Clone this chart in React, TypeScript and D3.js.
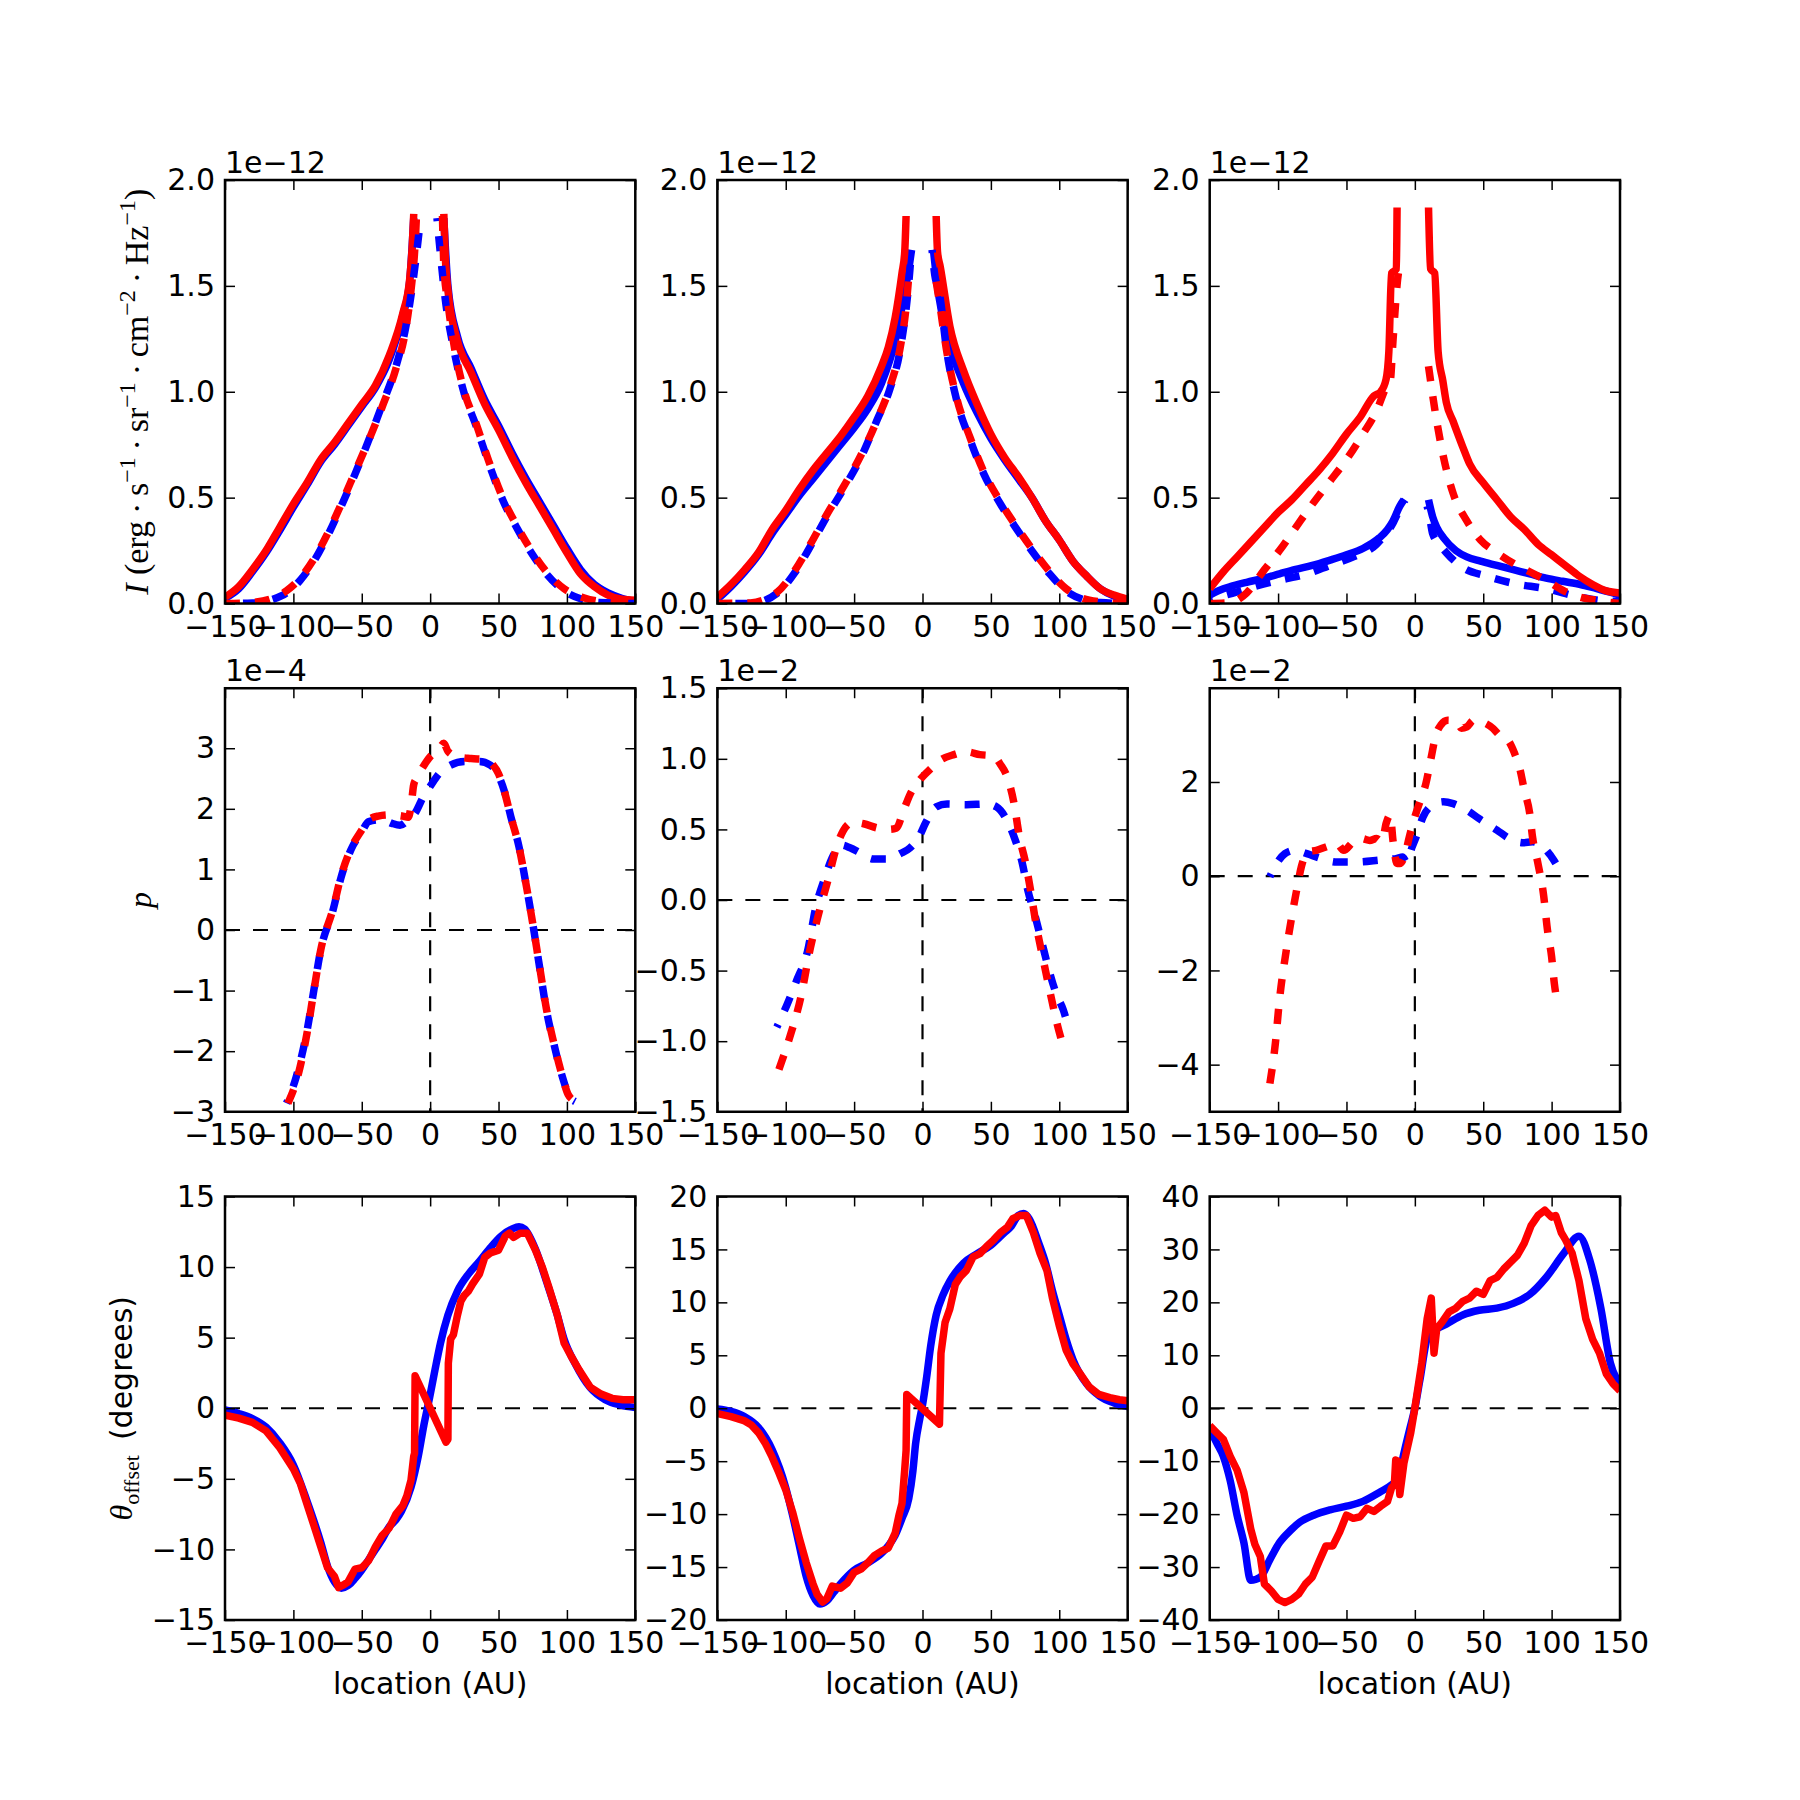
import * as d3 from 'd3';
import React, { useEffect, useRef } from 'react';

type Pt = [number, number | null];

// x axis (location in AU), shared by every panel
const xDomain: [number, number] = [-150, 150];
const xTicks = [-150, -100, -50, 0, 50, 100, 150];

// Row 1: intensity I, in units of 1e-12 (null marks the gap at the centre)
const intensityABlue: Pt[] = [
  [-150, 0.025], [-140, 0.07], [-130, 0.15], [-120, 0.24], [-110, 0.345], [-100, 0.455],
  [-90, 0.56], [-80, 0.67], [-70, 0.75], [-60, 0.84], [-50, 0.93], [-40, 1.02], [-30, 1.15],
  [-20, 1.36], [-15, 1.52], [-12, 1.82], [0, null], [10, 1.82], [13, 1.5], [20, 1.26],
  [30, 1.11], [40, 0.96], [50, 0.84], [60, 0.71], [70, 0.59], [80, 0.48], [90, 0.37],
  [100, 0.26], [110, 0.16], [120, 0.09], [130, 0.05], [140, 0.025], [150, 0.01],
];
const intensityABlueDash: Pt[] = [
  [-150, 0], [-130, 0.003], [-115, 0.02], [-105, 0.05], [-95, 0.11], [-85, 0.2], [-75, 0.32],
  [-65, 0.46], [-55, 0.61], [-45, 0.77], [-35, 0.94], [-25, 1.12], [-18, 1.3], [-13, 1.5],
  [-10, 1.65], [-7, 1.82], [0, null], [5, 1.82], [8, 1.62], [11, 1.44], [17, 1.21], [25, 0.99],
  [33, 0.85], [43, 0.66], [53, 0.49], [64, 0.35], [74, 0.24], [85, 0.14], [98, 0.06],
  [111, 0.02], [124, 0.005], [150, 0],
];
const intensityARed: Pt[] = [
  [-150, 0.03], [-140, 0.08], [-130, 0.16], [-120, 0.25], [-110, 0.36], [-100, 0.47],
  [-90, 0.57], [-80, 0.68], [-70, 0.76], [-60, 0.85], [-50, 0.94], [-40, 1.03], [-30, 1.17],
  [-20, 1.37], [-15, 1.53], [-13, 1.7], [-12, 1.84], [0, null], [10, 1.84], [11, 1.65],
  [13, 1.48], [20, 1.24], [30, 1.09], [40, 0.94], [50, 0.82], [60, 0.69], [70, 0.57],
  [80, 0.46], [90, 0.35], [100, 0.24], [110, 0.14], [120, 0.08], [130, 0.04], [140, 0.02],
  [150, 0.015],
];
const intensityARedDash: Pt[] = [
  [-150, 0], [-130, 0.005], [-115, 0.025], [-105, 0.06], [-95, 0.12], [-85, 0.21], [-75, 0.33],
  [-65, 0.47], [-55, 0.62], [-45, 0.77], [-35, 0.93], [-25, 1.11], [-18, 1.29], [-14, 1.48],
  [-11, 1.7], [-10, 1.83], [0, null], [9, 1.83], [10, 1.6], [13, 1.42], [18, 1.2], [25, 1.0],
  [33, 0.86], [43, 0.67], [53, 0.5], [64, 0.36], [74, 0.25], [85, 0.15], [98, 0.07],
  [111, 0.03], [124, 0.01], [150, 0],
];

const intensityBBlue: Pt[] = [
  [-150, 0.02], [-140, 0.08], [-130, 0.15], [-120, 0.23], [-110, 0.33], [-100, 0.42],
  [-90, 0.51], [-80, 0.59], [-70, 0.67], [-60, 0.75], [-50, 0.83], [-40, 0.92], [-30, 1.04],
  [-20, 1.24], [-15, 1.4], [-10, 1.58], [-8, 1.67], [0, null], [8, 1.67], [10, 1.55],
  [12, 1.45], [20, 1.22], [30, 1.04], [40, 0.9], [50, 0.78], [60, 0.68], [70, 0.59],
  [80, 0.5], [90, 0.39], [100, 0.3], [110, 0.2], [120, 0.13], [130, 0.07], [140, 0.035],
  [150, 0.015],
];
const intensityBBlueDash: Pt[] = [
  [-150, 0], [-126, 0], [-106, 0.05], [-94, 0.14], [-82, 0.27], [-70, 0.41], [-57, 0.55],
  [-45, 0.69], [-33, 0.87], [-24, 1.01], [-16, 1.21], [-11, 1.45], [-8, 1.67], [0, null],
  [7, 1.67], [9, 1.55], [12, 1.48], [18, 1.18], [25, 0.96], [35, 0.77], [45, 0.61],
  [57, 0.47], [69, 0.35], [81, 0.24], [93, 0.14], [105, 0.06], [117, 0.02], [130, 0.005],
  [150, 0],
];
const intensityBRed: Pt[] = [
  [-150, 0.03], [-140, 0.09], [-130, 0.16], [-120, 0.24], [-110, 0.35], [-100, 0.44],
  [-90, 0.54], [-80, 0.63], [-70, 0.71], [-60, 0.79], [-50, 0.88], [-40, 0.98], [-30, 1.12],
  [-25, 1.21], [-20, 1.35], [-15, 1.56], [-13, 1.66], [-12, 1.83], [0, null], [10, 1.83],
  [11, 1.66], [13, 1.59], [20, 1.31], [30, 1.1], [40, 0.94], [50, 0.8], [60, 0.69],
  [70, 0.6], [80, 0.5], [90, 0.39], [100, 0.3], [110, 0.2], [120, 0.13], [130, 0.07],
  [140, 0.04], [150, 0.02],
];
const intensityBRedDash: Pt[] = [
  [-150, 0], [-126, 0.003], [-106, 0.055], [-94, 0.15], [-82, 0.28], [-70, 0.42], [-57, 0.56],
  [-45, 0.7], [-33, 0.87], [-24, 1.02], [-16, 1.22], [-12, 1.4], [-10, 1.55], [0, null],
  [10, 1.52], [12, 1.44], [18, 1.18], [25, 0.97], [35, 0.78], [45, 0.62], [57, 0.48],
  [69, 0.36], [81, 0.25], [93, 0.15], [105, 0.07], [117, 0.025], [130, 0.008], [150, 0],
];

const intensityCBlue: Pt[] = [
  [-150, 0.04], [-140, 0.07], [-135, 0.08], [-123, 0.1], [-110, 0.12], [-99, 0.14],
  [-88, 0.16], [-75, 0.18], [-62, 0.205], [-50, 0.23], [-38, 0.26], [-26, 0.31], [-20, 0.35],
  [-16, 0.39], [-11, 0.46], [-8, 0.49], [0, null], [10, 0.49], [13, 0.41], [16, 0.36],
  [21, 0.31], [30, 0.25], [38, 0.22], [48, 0.2], [60, 0.18], [72, 0.16], [84, 0.14],
  [96, 0.12], [108, 0.105], [121, 0.09], [133, 0.07], [142, 0.055], [150, 0.04],
];
const intensityCBlueDash: Pt[] = [
  [-150, 0.02], [-130, 0.055], [-115, 0.085], [-99, 0.11], [-79, 0.14], [-62, 0.18],
  [-45, 0.22], [-28, 0.28], [-16, 0.38], [-10, 0.46], [-7, 0.49], [0, null], [9, 0.46],
  [11, 0.4], [13, 0.33], [18, 0.28], [23, 0.24], [35, 0.17], [52, 0.13], [72, 0.095],
  [96, 0.07], [121, 0.03], [135, 0.015], [150, 0.01],
];
const intensityCRed: Pt[] = [
  [-150, 0.07], [-140, 0.15], [-130, 0.22], [-120, 0.29], [-110, 0.36], [-100, 0.43],
  [-90, 0.49], [-80, 0.56], [-70, 0.63], [-60, 0.71], [-50, 0.8], [-40, 0.88], [-30, 0.98],
  [-25, 1.0], [-21, 1.06], [-19, 1.19], [-17, 1.56], [-13.5, 1.58], [-13, 1.87], [0, null],
  [10, 1.87], [11.5, 1.58], [14.5, 1.56], [17, 1.19], [20.5, 1.05], [23, 0.95], [28, 0.86],
  [35, 0.74], [40, 0.66], [50, 0.57], [60, 0.49], [70, 0.41], [80, 0.35], [90, 0.28],
  [100, 0.23], [110, 0.18], [120, 0.13], [130, 0.09], [140, 0.06], [150, 0.05],
];
const intensityCRedDash: Pt[] = [
  [-150, 0], [-135, 0.005], [-123, 0.05], [-110, 0.16], [-99, 0.25], [-87, 0.36], [-76, 0.46],
  [-63, 0.57], [-50, 0.68], [-38, 0.8], [-28, 0.91], [-21, 1.02], [-18, 1.05], [-16, 1.24],
  [-12, 1.56], [-10, 1.6], [0, null], [10, 1.12], [15, 0.9], [21, 0.69], [28, 0.52],
  [38, 0.39], [48, 0.3], [60, 0.24], [72, 0.19], [84, 0.15], [96, 0.11], [109, 0.06],
  [121, 0.03], [133, 0.015], [150, 0],
];

// Row 2: polarisation fraction p (1e-4, 1e-2, 1e-2)
const polarABlue: Pt[] = [
  [-105, -2.86], [-98, -2.43], [-90, -1.66], [-85, -0.99], [-80, -0.33], [-71, 0.33],
  [-65, 0.88], [-58, 1.32], [-50, 1.62], [-45, 1.79], [-35, 1.82], [-28, 1.76], [-22, 1.73],
  [-16, 1.82], [-11, 1.93], [-5, 2.2], [0, 2.37], [7, 2.59], [15, 2.72], [25, 2.78],
  [36, 2.78], [44, 2.72], [49, 2.59], [54, 2.31], [59, 1.87], [65, 1.37], [70, 0.77],
  [75, 0.11], [80, -0.61], [85, -1.32], [91, -1.93], [96, -2.37], [102, -2.75], [106, -2.83],
];
const polarARed: Pt[] = [
  [-104, -2.86], [-97, -2.43], [-90, -1.7], [-85, -1.0], [-80, -0.33], [-71, 0.35],
  [-65, 0.9], [-58, 1.34], [-50, 1.65], [-45, 1.82], [-38, 1.88], [-30, 1.9], [-20, 1.88],
  [-16, 1.86], [-14, 2.04], [-12, 2.4], [-10, 2.5], [-5, 2.7], [0, 2.86], [6, 2.97],
  [10, 3.08], [13, 2.95], [20, 2.86], [30, 2.83], [41, 2.81], [46, 2.72], [50, 2.58],
  [54, 2.31], [59, 1.87], [65, 1.37], [70, 0.77], [75, 0.11], [80, -0.6], [85, -1.3],
  [91, -1.92], [96, -2.36], [101, -2.72], [104, -2.8],
];
const polarBBlue: Pt[] = [
  [-106.5, -0.9], [-99, -0.74], [-92, -0.57], [-84, -0.36], [-78, -0.05], [-72, 0.14],
  [-66, 0.3], [-60, 0.39], [-53, 0.37], [-45, 0.33], [-36, 0.29], [-26, 0.29], [-16, 0.33],
  [-9, 0.37], [-3, 0.44], [3, 0.56], [10, 0.66], [18, 0.68], [32, 0.675], [47, 0.68],
  [54, 0.66], [62, 0.56], [68, 0.42], [73, 0.26], [77, 0.07], [82, -0.1], [87, -0.29],
  [92, -0.48], [98, -0.67], [103, -0.78], [105.5, -0.86],
];
const polarBRed: Pt[] = [
  [-105, -1.2], [-97, -0.97], [-89, -0.69], [-82, -0.34], [-76, -0.1], [-70, 0.11],
  [-62, 0.4], [-58, 0.49], [-51, 0.55], [-43, 0.54], [-33, 0.51], [-24, 0.5], [-19, 0.51],
  [-14, 0.63], [-9, 0.75], [-2, 0.85], [6, 0.93], [13, 0.99], [23, 1.03], [32, 1.05],
  [42, 1.03], [52, 1.02], [57, 0.96], [62, 0.87], [67, 0.68], [71, 0.44], [75, 0.28],
  [79, 0.07], [83, -0.17], [88, -0.41], [93, -0.64], [98, -0.86], [103, -1.04],
];
const polarCBlue: Pt[] = [
  [-106, -0.01], [-101, 0.27], [-95, 0.48], [-88, 0.55], [-79, 0.48], [-69, 0.38],
  [-57, 0.3], [-43, 0.3], [-26, 0.34], [-13, 0.38], [-9, 0.41], [-6, 0.3], [-2, 0.62],
  [1, 0.84], [6, 1.26], [13, 1.51], [21, 1.58], [28, 1.54], [38, 1.4], [47, 1.22],
  [60, 0.98], [69, 0.8], [79, 0.71], [86, 0.73], [94, 0.62], [100, 0.41], [106, 0.16],
  [107, 0.14],
];
const polarCRed: Pt[] = [
  [-106, -4.4], [-102, -3.55], [-99, -2.63], [-94, -1.57], [-90, -0.86], [-86, -0.23],
  [-83, 0.2], [-78, 0.52], [-72, 0.55], [-65, 0.62], [-57, 0.69], [-52, 0.55], [-45, 0.73],
  [-39, 0.8], [-33, 0.76], [-28, 0.8], [-24, 0.73], [-21, 1.12], [-18, 1.3], [-16, 0.76],
  [-13, 0.27], [-11, 0.27], [-7, 0.48], [-4, 0.84], [0, 1.26], [4, 1.61], [8, 1.96],
  [12, 2.53], [15, 2.96], [19, 3.21], [24, 3.31], [31, 3.28], [34, 3.14], [38, 3.17],
  [43, 3.31], [48, 3.28], [52, 3.24], [57, 3.14], [62, 2.99], [68, 2.89], [73, 2.6],
  [77, 2.25], [80, 1.83], [84, 1.33], [86, 0.84], [90, 0.27], [94, -0.37], [97, -1.15],
  [100, -1.71], [102, -2.28], [105, -2.77],
];

// Row 3: polarisation angle offset (degrees)
const offsetABlue: Pt[] = [
  [-150, -0.12], [-140, -0.37], [-130, -0.73], [-120, -1.34], [-110, -2.44], [-100, -4.02],
  [-90, -6.59], [-80, -9.5], [-75, -11.2], [-70, -12.3], [-65, -12.75], [-60, -12.56],
  [-55, -12.07], [-50, -11.46], [-45, -10.73], [-40, -10.0], [-35, -9.27], [-30, -8.41],
  [-25, -7.9], [-21, -7.3], [-14, -5.6], [-8.7, -3.4], [-4.6, -1.2], [-0.5, 0.7],
  [3.5, 2.7], [7.6, 4.63], [13, 6.59], [20, 8.3], [28, 9.5], [36, 10.4], [44, 11.37],
  [52, 12.2], [60, 12.7], [65, 12.85], [69, 12.7], [77, 11.27], [85, 9.0], [93, 6.59],
  [98, 4.88], [106, 3.17], [117, 1.46], [128, 0.61], [139, 0.24], [150, 0.05],
];
const offsetARed: Pt[] = [
  [-150, -0.5], [-140, -0.7], [-130, -1.0], [-120, -1.6], [-110, -2.8], [-100, -4.3],
  [-95, -5.3], [-90, -6.8], [-85, -8.3], [-80, -9.8], [-75, -11.3], [-70, -11.9],
  [-67, -12.7], [-63, -12.5], [-60, -12.3], [-55, -11.4], [-50, -11.3], [-45, -10.8],
  [-40, -9.8], [-35, -9.0], [-30, -8.5], [-25, -7.5], [-20, -6.9], [-17, -6.2], [-14, -5.1],
  [-12, -3.4], [-11.4, -3.2], [-11, 2.3], [11.6, -2.4], [13, -2.2], [13.3, 3.2], [15, 4.9],
  [17, 5.2], [20, 6.6], [22.5, 7.6], [25, 8.0], [28, 8.3], [31, 8.8], [36, 9.5], [40, 10.7],
  [44, 11.0], [50, 11.2], [55, 12.2], [58, 12.4], [61, 12.1], [66, 12.4], [71, 12.4],
  [77, 11.2], [82, 10.0], [87, 8.5], [93, 6.6], [98, 4.6], [103, 3.7], [109, 2.7],
  [117, 1.5], [125, 1.0], [133, 0.7], [141, 0.6], [150, 0.6],
];
const offsetBBlue: Pt[] = [
  [-150, -0.07], [-140, -0.3], [-130, -0.8], [-120, -1.8], [-110, -3.9], [-100, -7.5],
  [-95, -10.1], [-90, -13.0], [-85, -15.9], [-80, -17.7], [-75, -18.5], [-70, -18.2],
  [-65, -17.4], [-60, -16.6], [-50, -15.3], [-40, -14.6], [-30, -13.7], [-25, -13.0],
  [-20, -12.0], [-15, -10.4], [-10, -8.5], [-7, -5.9], [-5, -3.3], [-2, -1.0], [0, 0.3],
  [3, 2.9], [6, 5.9], [10, 8.8], [15, 10.7], [20, 12.0], [30, 13.7], [40, 14.6], [50, 15.4],
  [60, 16.6], [65, 17.2], [70, 18.2], [74, 18.4], [78, 17.9], [85, 15.6], [90, 13.7],
  [95, 11.1], [100, 8.8], [105, 6.5], [110, 4.6], [120, 2.3], [130, 1.1], [140, 0.5],
  [150, 0.16],
];
const offsetBRed: Pt[] = [
  [-150, -0.5], [-140, -0.8], [-130, -1.2], [-125, -1.6], [-120, -2.3], [-115, -3.3],
  [-110, -4.6], [-105, -6.1], [-100, -7.7], [-95, -9.8], [-90, -12.3], [-85, -14.6],
  [-80, -16.6], [-77, -17.6], [-73, -18.3], [-70, -18.0], [-66, -16.8], [-60, -17.0],
  [-55, -16.5], [-50, -15.5], [-45, -15.2], [-40, -14.6], [-35, -13.9], [-30, -13.5],
  [-25, -13.2], [-20, -11.8], [-17, -10.0], [-15, -9.0], [-13, -5.8], [-12, -4.0],
  [-11.5, 1.3], [12.4, -1.5], [13.5, 5.2], [16.5, 8.1], [20, 9.4], [24, 11.7], [27.5, 12.4],
  [32, 13.0], [37, 14.3], [42, 14.6], [47, 15.3], [52, 15.9], [57, 16.6], [62, 17.1],
  [66, 17.9], [71, 18.2], [76, 18.2], [81, 16.6], [86, 14.6], [91, 13.0], [95, 10.4],
  [100, 7.8], [105, 5.5], [110, 4.2], [115, 3.3], [122, 2.0], [129, 1.3], [137, 1.0],
  [144, 0.8], [150, 0.7],
];
const offsetCBlue: Pt[] = [
  [-150, -3.9], [-145, -6.5], [-140, -9.1], [-135, -13.7], [-130, -20.2], [-125, -25.4],
  [-120, -32.5], [-113, -31.9], [-106, -28.6], [-99, -25.4], [-91, -23.1], [-84, -21.5],
  [-74, -20.2], [-62, -19.2], [-50, -18.5], [-38, -17.6], [-26, -15.9], [-16, -14.3],
  [-12, -13.3], [-8.5, -9.1], [-3.7, -3.9], [0, 0], [3.6, 5.2], [9.7, 13.7], [16, 15.0],
  [23, 15.9], [35, 17.6], [47, 18.5], [60, 18.9], [72, 19.8], [84, 21.5], [96, 24.7],
  [109, 29.3], [120, 32.5], [128, 27.9], [136, 18.9], [143, 8.5], [150, 4.6],
];
const offsetCRed: Pt[] = [
  [-150, -3.3], [-145, -4.6], [-140, -5.9], [-135, -9.1], [-130, -11.7], [-125, -15.9],
  [-120, -22.8], [-117, -25.7], [-113, -28.0], [-110, -33.2], [-105, -34.5], [-100, -36.1],
  [-95, -36.7], [-90, -36.1], [-85, -35.1], [-80, -33.2], [-75, -31.9], [-70, -28.9],
  [-65, -26.0], [-60, -26.0], [-55, -23.4], [-50, -20.2], [-45, -20.8], [-40, -20.5],
  [-35, -18.9], [-30, -19.5], [-25, -18.5], [-20, -17.6], [-17, -15.0], [-15, -14.5],
  [-14, -9.8], [-12.5, -10.0], [-11, -16.3], [-8, -10.4], [-3, -4.6], [0, 0], [5, 8.5],
  [9, 16.9], [12, 20.8], [14, 10.4], [16, 15.0], [20, 16.3], [25, 18.2], [30, 18.9],
  [35, 20.2], [40, 20.8], [45, 22.1], [50, 21.5], [55, 24.1], [60, 24.7], [65, 26.3],
  [70, 27.6], [75, 28.9], [80, 31.2], [85, 34.5], [90, 36.4], [95, 37.4], [100, 36.1],
  [103, 36.4], [107, 33.2], [110, 31.9], [115, 29.3], [120, 24.1], [125, 16.9], [130, 13.0],
  [135, 10.4], [140, 6.5], [145, 4.6], [150, 3.3],
];

// y ticks per panel
const intensityTicks = [0, 0.5, 1.0, 1.5, 2.0];
const polarTicksA = [-3, -2, -1, 0, 1, 2, 3];
const polarTicksB = [-1.5, -1.0, -0.5, 0, 0.5, 1.0, 1.5];
const polarTicksC = [-4, -2, 0, 2];
const offsetTicksA = [-15, -10, -5, 0, 5, 10, 15];
const offsetTicksB = [-20, -15, -10, -5, 0, 5, 10, 15, 20];
const offsetTicksC = [-40, -30, -20, -10, 0, 10, 20, 30, 40];

const BLUE = '#0000ff';
const RED = '#ff0000';

type Series = { data: Pt[]; color: string; dashed: boolean; smooth: boolean };
type Panel = {
  row: number;
  col: number;
  yDomain: [number, number];
  yTicks: number[];
  fmt: string;
  offset?: string;
  hline?: boolean;
  vline?: boolean;
  series: Series[];
};

const s = (data: Pt[], color: string, dashed = false, smooth = true): Series => ({ data, color, dashed, smooth });

const panels: Panel[] = [
  { row: 0, col: 0, yDomain: [0, 2], yTicks: intensityTicks, fmt: '.1f', offset: '1e\u221212',
    series: [s(intensityABlue, BLUE), s(intensityARed, RED), s(intensityABlueDash, BLUE, true), s(intensityARedDash, RED, true)] },
  { row: 0, col: 1, yDomain: [0, 2], yTicks: intensityTicks, fmt: '.1f', offset: '1e\u221212',
    series: [s(intensityBBlue, BLUE), s(intensityBRed, RED), s(intensityBBlueDash, BLUE, true), s(intensityBRedDash, RED, true)] },
  { row: 0, col: 2, yDomain: [0, 2], yTicks: intensityTicks, fmt: '.1f', offset: '1e\u221212',
    series: [s(intensityCBlue, BLUE), s(intensityCRed, RED), s(intensityCBlueDash, BLUE, true), s(intensityCRedDash, RED, true)] },
  { row: 1, col: 0, yDomain: [-3, 3.99], yTicks: polarTicksA, fmt: 'd', offset: '1e\u22124', hline: true, vline: true,
    series: [s(polarABlue, BLUE, true), s(polarARed, RED, true)] },
  { row: 1, col: 1, yDomain: [-1.5, 1.5], yTicks: polarTicksB, fmt: '.1f', offset: '1e\u22122', hline: true, vline: true,
    series: [s(polarBBlue, BLUE, true), s(polarBRed, RED, true)] },
  { row: 1, col: 2, yDomain: [-5, 3.99], yTicks: polarTicksC, fmt: 'd', offset: '1e\u22122', hline: true, vline: true,
    series: [s(polarCBlue, BLUE, true), s(polarCRed, RED, true)] },
  { row: 2, col: 0, yDomain: [-15, 15], yTicks: offsetTicksA, fmt: 'd', hline: true,
    series: [s(offsetABlue, BLUE), s(offsetARed, RED, false, false)] },
  { row: 2, col: 1, yDomain: [-20, 20], yTicks: offsetTicksB, fmt: 'd', hline: true,
    series: [s(offsetBBlue, BLUE), s(offsetBRed, RED, false, false)] },
  { row: 2, col: 2, yDomain: [-40, 40], yTicks: offsetTicksC, fmt: 'd', hline: true,
    series: [s(offsetCBlue, BLUE), s(offsetCRed, RED, false, false)] },
];

// figure geometry (matplotlib-style subplot grid)
const FIG = 1800;
const LEFT = 225;
const TOP = 180;
const W = (0.775 * FIG) / 3.4;
const H = (0.8 * FIG) / 3.4;
const FONT = 'DejaVu Sans';
const SERIF = 'Liberation Serif';

export default function App() {
  const ref = useRef<HTMLDivElement>(null);

  useEffect(() => {
    if (!ref.current) return;
    ref.current.innerHTML = '';

    const svg = d3
      .select(ref.current)
      .append('svg')
      .attr('width', FIG)
      .attr('height', FIG)
      .style('position', 'absolute')
      .style('left', '0px')
      .style('top', '0px')
      .style('background', '#fff');

    panels.forEach((p, i) => {
      const x0 = LEFT + p.col * W * 1.2;
      const y0 = TOP + p.row * H * 1.2;
      const g = svg.append('g').attr('transform', `translate(${x0},${y0})`);

      const x = d3.scaleLinear().domain(xDomain).range([0, W]);
      const y = d3.scaleLinear().domain(p.yDomain).range([H, 0]);

      g.append('clipPath')
        .attr('id', `clip-${i}`)
        .append('rect')
        .attr('width', W)
        .attr('height', H);

      const plot = g.append('g').attr('clip-path', `url(#clip-${i})`);

      // black dashed zero lines
      if (p.hline) {
        plot.append('line')
          .attr('x1', 0).attr('x2', W)
          .attr('y1', y(0)).attr('y2', y(0))
          .attr('stroke', '#000').attr('stroke-width', 2.2)
          .attr('stroke-dasharray', '15,13');
      }
      if (p.vline) {
        plot.append('line')
          .attr('x1', x(0)).attr('x2', x(0))
          .attr('y1', 0).attr('y2', H)
          .attr('stroke', '#000').attr('stroke-width', 2.2)
          .attr('stroke-dasharray', '15,13');
      }

      p.series.forEach(ser => {
        const line = d3
          .line<Pt>()
          .defined(d => d[1] !== null)
          .x(d => x(d[0]))
          .y(d => y(d[1] as number))
          .curve(ser.smooth ? d3.curveMonotoneX : d3.curveLinear);
        plot.append('path')
          .datum(ser.data)
          .attr('fill', 'none')
          .attr('stroke', ser.color)
          .attr('stroke-width', 7.5)
          .attr('stroke-linejoin', 'round')
          .attr('stroke-dasharray', ser.dashed ? '15,15' : null)
          .attr('stroke-dashoffset', ser.dashed && ser.color === BLUE ? 12 : 0)
          .attr('d', line);
      });

      const yFmt = d3.format(p.fmt);
      const style = (sel: d3.Selection<SVGGElement, unknown, null, undefined>) => {
        sel.select('.domain').remove();
        sel.attr('font-family', FONT).attr('font-size', 30);
        sel.selectAll('.tick line').attr('stroke', '#000').attr('stroke-width', 1.5);
        sel.selectAll('.tick text').attr('fill', '#000');
      };

      g.append('g')
        .attr('transform', `translate(0,${H})`)
        .call(d3.axisBottom(x).tickValues(xTicks).tickFormat(d3.format('d')).tickSize(-10).tickPadding(12))
        .call(style);
      g.append('g')
        .call(d3.axisTop(x).tickValues(xTicks).tickFormat(() => '').tickSize(-10))
        .call(style);
      g.append('g')
        .call(d3.axisLeft(y).tickValues(p.yTicks).tickFormat(d => yFmt(d as number)).tickSize(-10).tickPadding(10))
        .call(style);
      g.append('g')
        .attr('transform', `translate(${W},0)`)
        .call(d3.axisRight(y).tickValues(p.yTicks).tickFormat(() => '').tickSize(-10))
        .call(style);

      // frame
      g.append('rect')
        .attr('width', W)
        .attr('height', H)
        .attr('fill', 'none')
        .attr('stroke', '#000')
        .attr('stroke-width', 2.5);

      if (p.offset) {
        g.append('text')
          .attr('x', 0)
          .attr('y', -7)
          .attr('font-family', FONT)
          .attr('font-size', 30)
          .text(p.offset);
      }

      if (p.row === 2) {
        g.append('text')
          .attr('x', W / 2)
          .attr('y', H + 74)
          .attr('text-anchor', 'middle')
          .attr('font-family', FONT)
          .attr('font-size', 30)
          .text('location (AU)');
      }
    });

    // y labels, one per row
    const rowMid = (r: number) => TOP + r * H * 1.2 + H / 2;

    const lab1 = svg.append('text')
      .attr('transform', `translate(148,${rowMid(0)}) rotate(-90)`)
      .attr('text-anchor', 'middle')
      .attr('font-family', SERIF)
      .attr('font-size', 34);
    const parts: [string, boolean][] = [
      ['(erg\u2009\u00b7\u2009s', false], ['\u22121', true],
      ['\u2009\u00b7\u2009sr', false], ['\u22121', true],
      ['\u2009\u00b7\u2009cm', false], ['\u22122', true],
      ['\u2009\u00b7\u2009Hz', false], ['\u22121', true],
      [')', false],
    ];
    lab1.append('tspan').attr('font-style', 'italic').text('I ');
    let up = false;
    parts.forEach(([t, sup]) => {
      const dy = sup === up ? 0 : sup ? -13 : 13;
      up = sup;
      lab1.append('tspan')
        .attr('dy', dy)
        .attr('font-size', sup ? 24 : 34)
        .text(t);
    });

    svg.append('text')
      .attr('transform', `translate(151,${rowMid(1)}) rotate(-90)`)
      .attr('text-anchor', 'middle')
      .attr('font-family', SERIF)
      .attr('font-style', 'italic')
      .attr('font-size', 32)
      .text('p');

    const lab3 = svg.append('text')
      .attr('transform', `translate(132,${rowMid(2)}) rotate(-90)`)
      .attr('text-anchor', 'middle')
      .attr('font-size', 30);
    lab3.append('tspan').attr('font-family', SERIF).attr('font-style', 'italic').attr('font-size', 32).text('\u03b8');
    lab3.append('tspan').attr('font-family', SERIF).attr('font-size', 22).attr('dy', 7).text('offset');
    lab3.append('tspan').attr('font-family', FONT).attr('dy', -7).text('\u2002(degrees)');
  }, []);

  return <div ref={ref}></div>;
}
